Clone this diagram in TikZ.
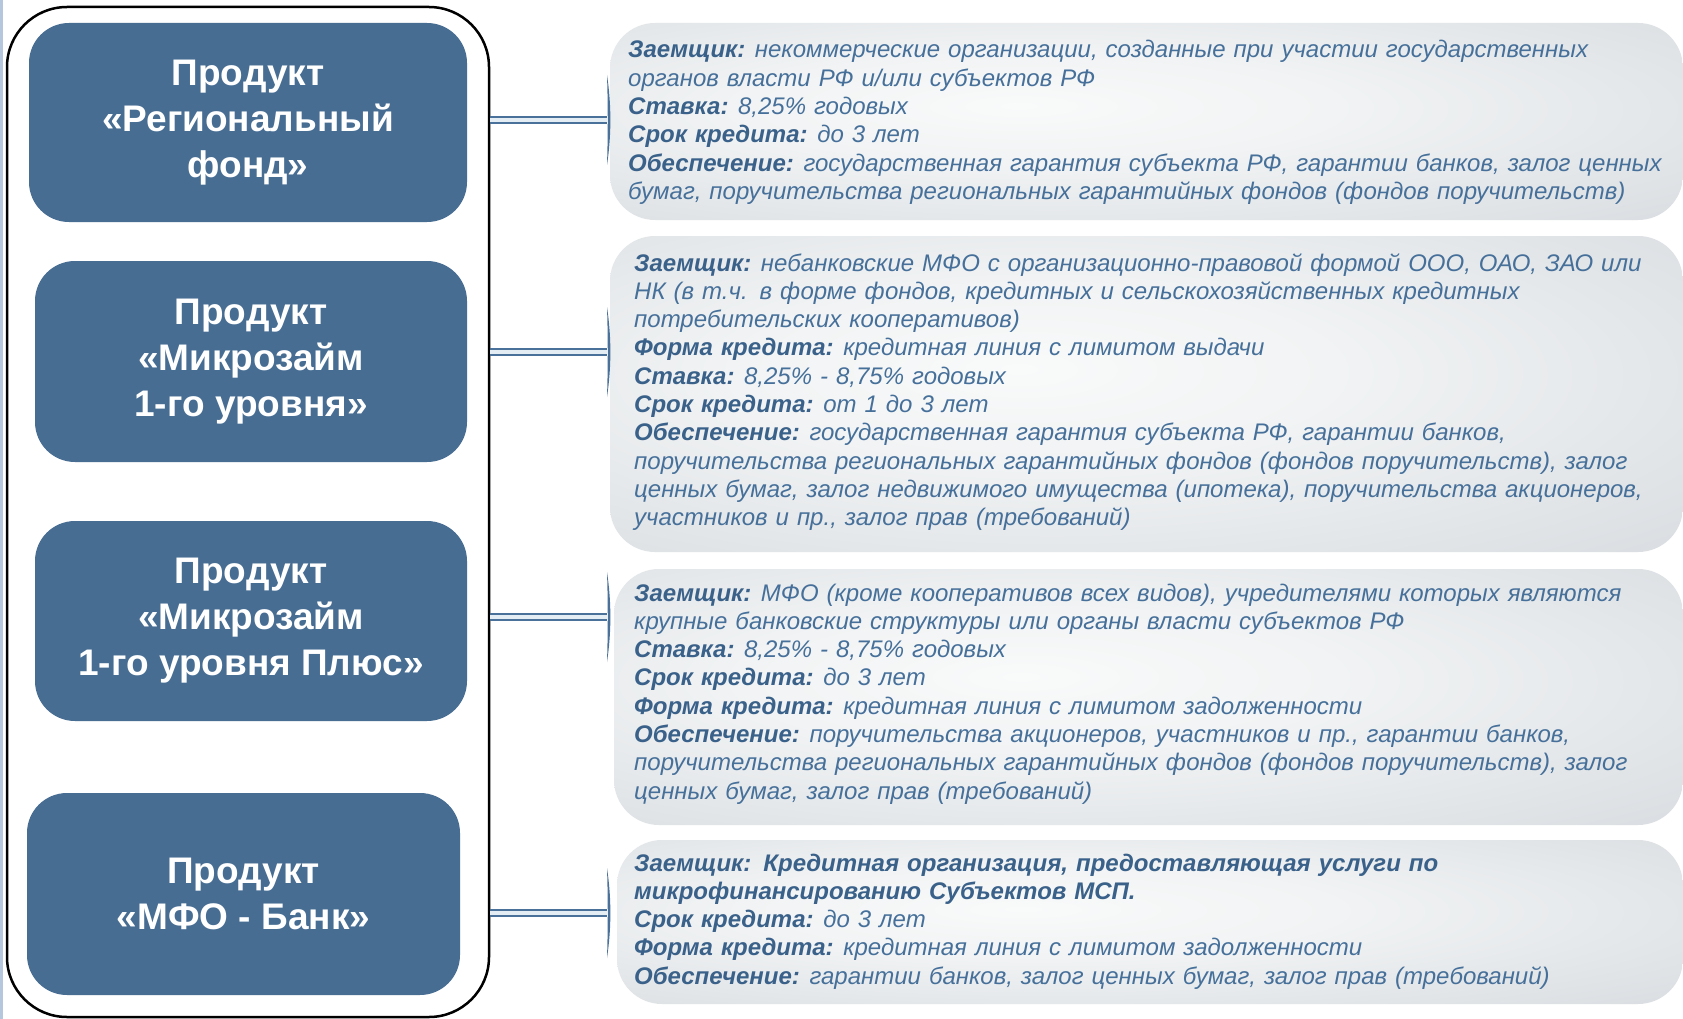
\documentclass[tikz,border=0pt]{standalone}
\usepackage{fontspec}
\setmainfont{Liberation Sans}
\usetikzlibrary{calc}
\definecolor{boxblue}{HTML}{476D93}
\definecolor{txtblue}{HTML}{46709A}
\definecolor{lblblue}{HTML}{3A6189}
\definecolor{barline}{HTML}{4A719A}
\definecolor{barfill}{HTML}{E4ECF4}
\definecolor{grayedge}{HTML}{D0D5DA}
\definecolor{graymid}{HTML}{F9FAFA}
\definecolor{graylite}{HTML}{F1F3F4}
\definecolor{edgeblue}{HTML}{B4C7DD}
\pgfdeclareradialshading{boxshade}{\pgfpoint{-6bp}{4bp}}{%
  color(0bp)=(graymid); color(14bp)=(graylite); color(50bp)=(grayedge); color(100bp)=(grayedge)}
\newcommand\lbl[1]{{\bfseries\color{lblblue}#1}\hspace{-0.1em}}
\begin{document}
\begin{tikzpicture}[x=1pt,y=-1pt,
  prod/.style={draw=none, fill=boxblue, rounded corners=40pt, inner sep=0pt,
    text=white, align=center, font=\fontsize{37}{46}\selectfont\bfseries},
  info/.style={draw=none, rounded corners=45pt, inner sep=0pt, shading=boxshade},
  desc/.style={anchor=base west, inner sep=0pt, text width=1060pt, align=left,
    text=txtblue, font=\fontsize{24}{28.3}\selectfont\itshape},
  frm/.style={draw=black, line width=2.5pt, rounded corners=60pt, inner sep=0pt},
  bar/.style={draw=barline, line width=1.6pt, double=barfill, double distance=4.5pt},
  capmark/.pic={\fill[barline] (0,-45) .. controls (4.5,-15) and (4.5,15) .. (0,45)
     .. controls (1,15) and (1,-15) .. cycle;}
]
\useasboundingbox (0,0) rectangle (1683,1019);
\fill[white] (0,0) rectangle (1683,1019);
\draw[edgeblue, line width=3pt] (1.5,0) -- (1.5,1019);

% outer frame
\node[frm, minimum width=482pt, minimum height=1010pt] (frame) at (248,512) {};

% product boxes
\node[prod, minimum width=438pt, minimum height=199pt] (b1) at (248,122.5)
  {Продукт\\«Региональный\\фонд»};
\node[prod, minimum width=432pt, minimum height=201pt] (b2) at (251,361.5)
  {Продукт\\«Микрозайм\\1-го уровня»};
\node[prod, minimum width=432pt, minimum height=200pt] (b3) at (251,621)
  {Продукт\\«Микрозайм\\1-го уровня Плюс»};
\node[prod, minimum width=433pt, minimum height=202pt] (b4) at (243.5,894)
  {Продукт\\«МФО - Банк»};

% info boxes
\node[info, minimum width=1073pt, minimum height=197pt] (r1) at (1146.5,121.5) {};
\node[info, minimum width=1073pt, minimum height=316pt] (r2) at (1146.5,394) {};
\node[info, minimum width=1069pt, minimum height=256pt] (r3) at (1148.5,697) {};
\node[info, minimum width=1066pt, minimum height=164pt] (r4) at (1150,922) {};

% connectors
\coordinate (c1) at (607,120);
\coordinate (c2) at (607,352);
\coordinate (c3) at (607,617);
\coordinate (c4) at (607,913);
\foreach \c in {c1,c2,c3,c4}{
  \draw[bar] (frame.east |- \c) -- (\c);
  \pic at (\c) {capmark};
}

% texts
\node[desc] (t1) at (628,58) {%
\lbl{Заемщик:} некоммерческие организации, созданные при участии государственных\\
органов власти РФ и/или субъектов РФ\\
\lbl{Ставка:} 8,25\% годовых\\
\lbl{Срок кредита:} до 3 лет\\
\lbl{Обеспечение:} государственная гарантия субъекта РФ, гарантии банков, залог ценных\\
бумаг, поручительства региональных гарантийных фондов (фондов поручительств)};

\node[desc] (t2) at (634,271) {%
\lbl{Заемщик:} небанковские МФО с организационно-правовой формой ООО, ОАО, ЗАО или\\
НК (в т.ч. в форме фондов, кредитных и сельскохозяйственных кредитных\\
потребительских кооперативов)\\
\lbl{Форма кредита:} кредитная линия с лимитом выдачи\\
\lbl{Ставка:} 8,25\% - 8,75\% годовых\\
\lbl{Срок кредита:} от 1 до 3 лет\\
\lbl{Обеспечение:} государственная гарантия субъекта РФ, гарантии банков,\\
поручительства региональных гарантийных фондов (фондов поручительств), залог\\
ценных бумаг, залог недвижимого имущества (ипотека), поручительства акционеров,\\
участников и пр., залог прав (требований)};

\node[desc] (t3) at (634,601) {%
\lbl{Заемщик:} МФО (кроме кооперативов всех видов), учредителями которых являются\\
крупные банковские структуры или органы власти субъектов РФ\\
\lbl{Ставка:} 8,25\% - 8,75\% годовых\\
\lbl{Срок кредита:} до 3 лет\\
\lbl{Форма кредита:} кредитная линия с лимитом задолженности\\
\lbl{Обеспечение:} поручительства акционеров, участников и пр., гарантии банков,\\
поручительства региональных гарантийных фондов (фондов поручительств), залог\\
ценных бумаг, залог прав (требований)};

\node[desc] (t4) at (634,871) {%
{\bfseries\color{lblblue}Заемщик: Кредитная организация, предоставляющая услуги по}\\
{\bfseries\color{lblblue}микрофинансированию Субъектов МСП.}\\
\lbl{Срок кредита:} до 3 лет\\
\lbl{Форма кредита:} кредитная линия с лимитом задолженности\\
\lbl{Обеспечение:} гарантии банков, залог ценных бумаг, залог прав (требований)};
\end{tikzpicture}
\end{document}
